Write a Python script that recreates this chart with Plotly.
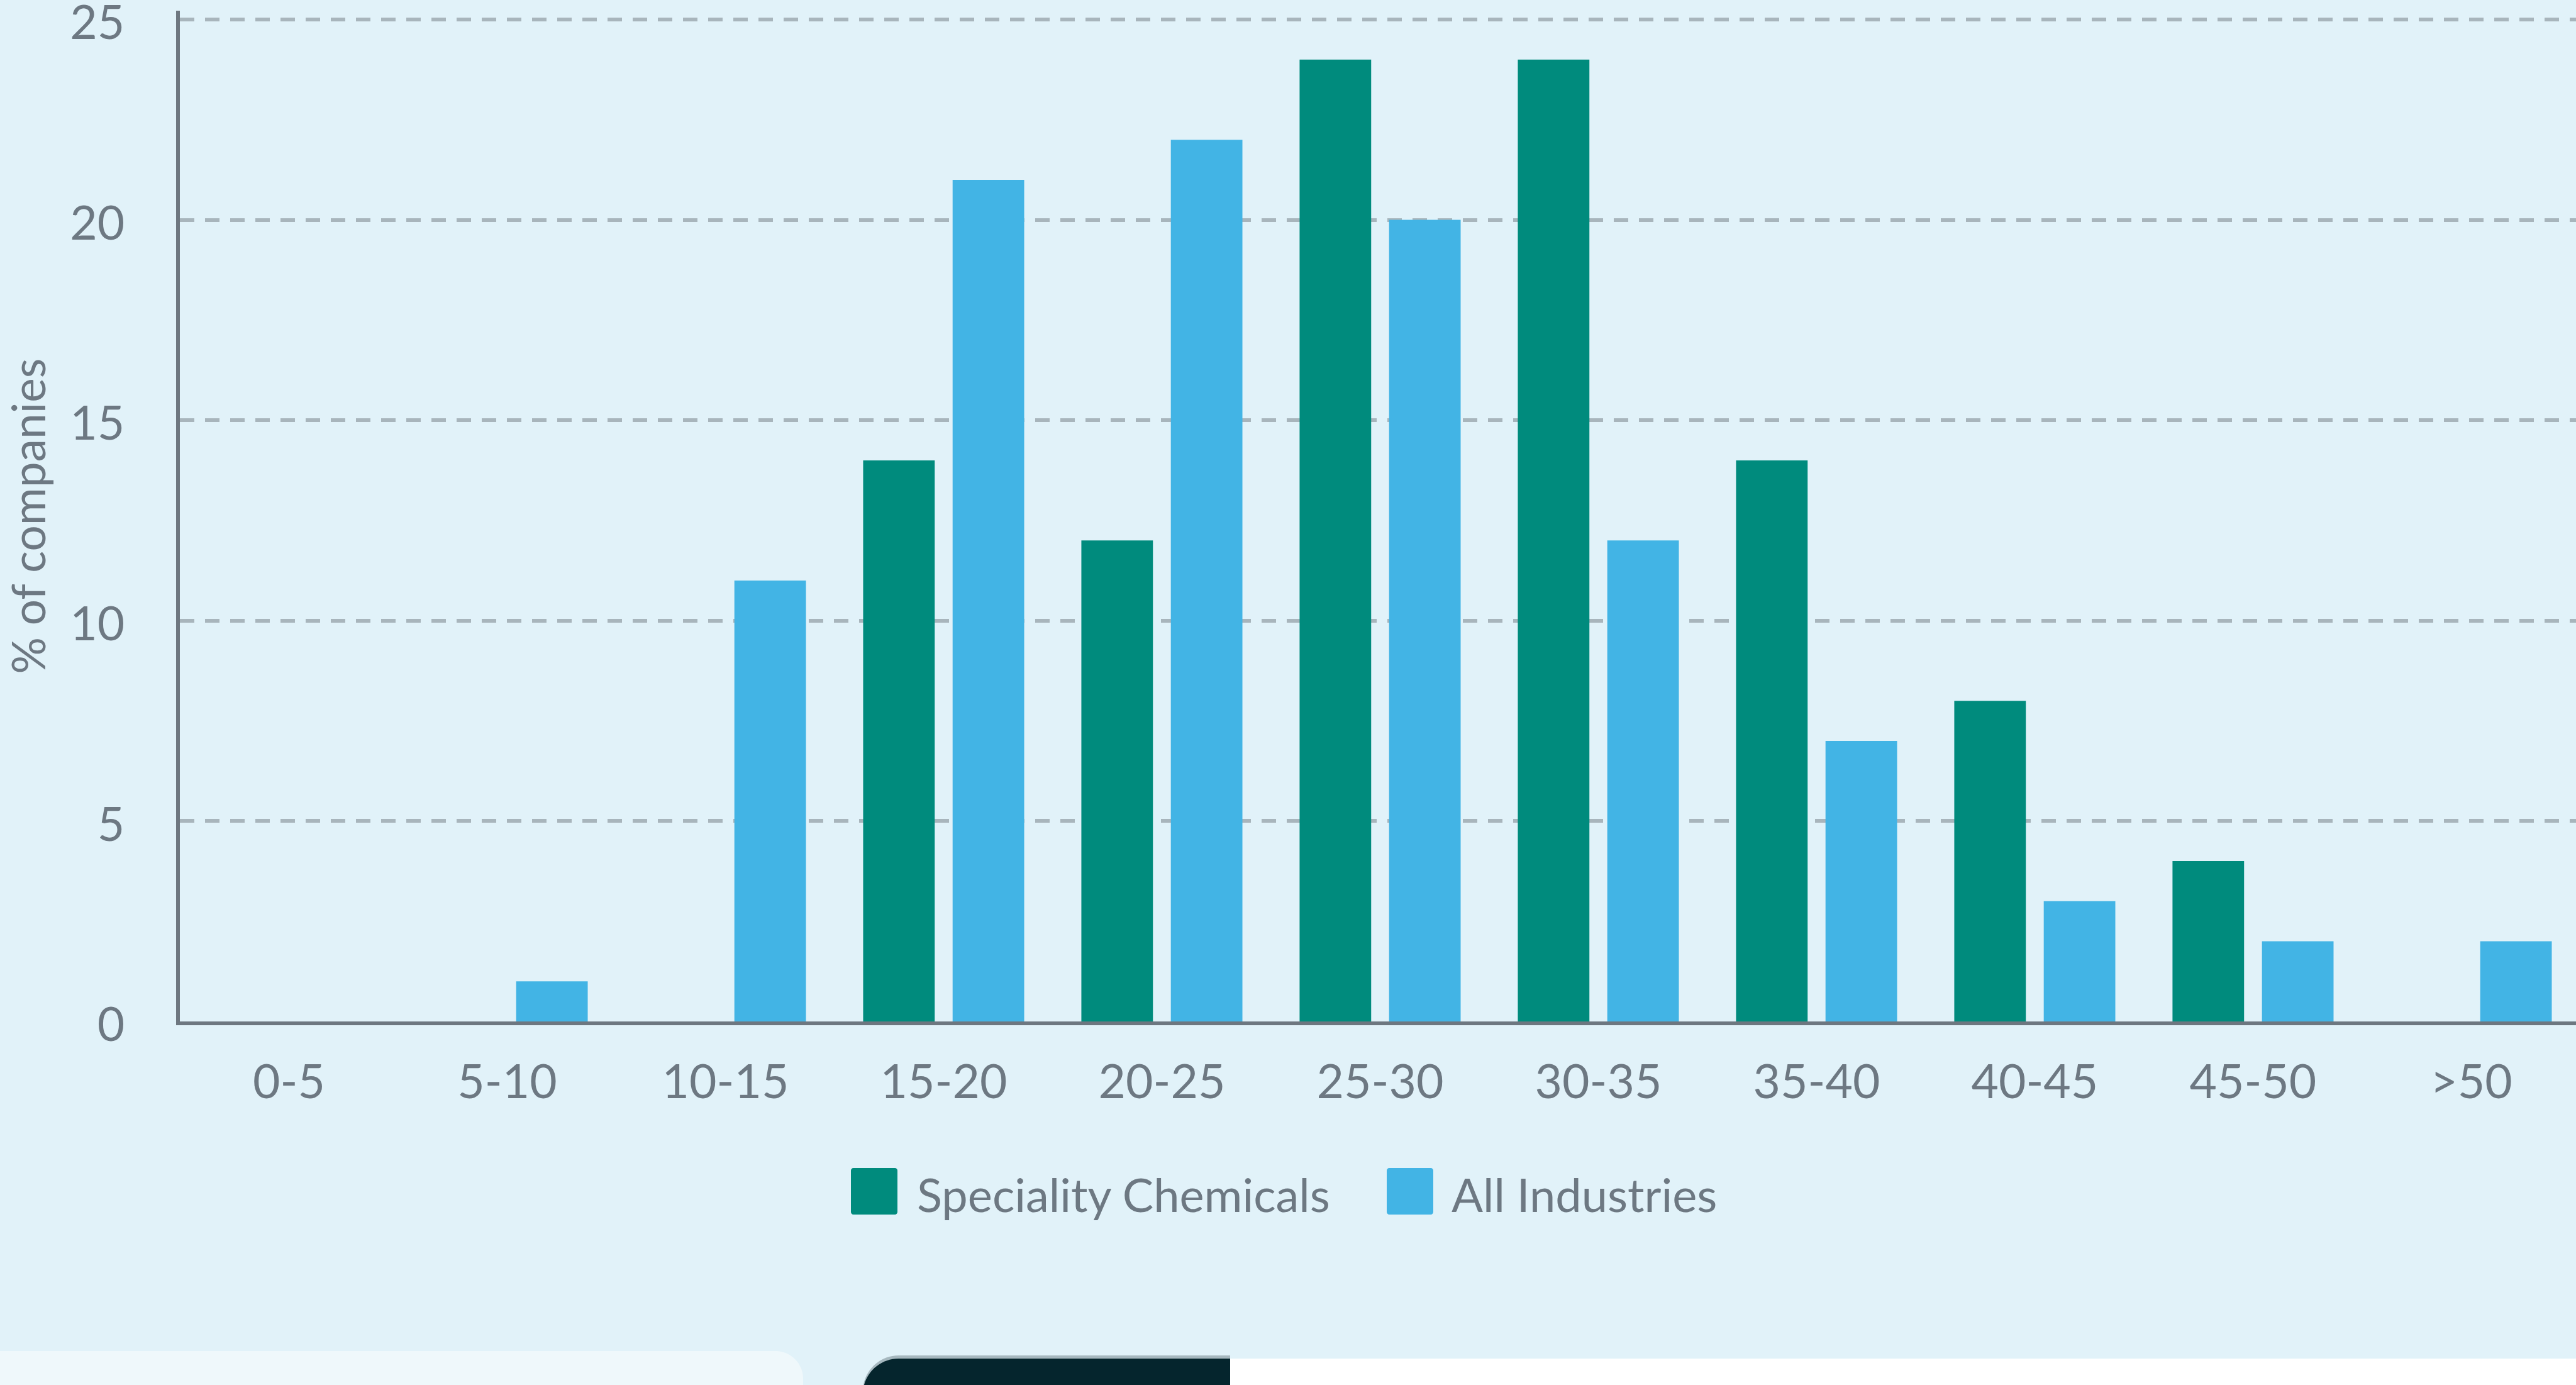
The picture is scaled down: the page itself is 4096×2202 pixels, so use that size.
import plotly.graph_objects as go

# ---------------- data ----------------
categories = ["0-5", "5-10", "10-15", "15-20", "20-25", "25-30",
              "30-35", "35-40", "40-45", "45-50", ">50"]
speciality_chemicals = [0, 0, 0, 14, 12, 24, 24, 14, 8, 4, 0]
all_industries = [0, 1, 11, 21, 22, 20, 12, 7, 3, 2, 2]
y_tick_values = [0, 5, 10, 15, 20, 25]
series_names = ["Speciality Chemicals", "All Industries"]
y_axis_title = "% of companies"

# ---------------- style ----------------
W, H = 4096, 2202
L, R, T, B = 286, 0, 17, 578
PW, PH = W - L - R, H - T - B

BG = "#E1F2F9"
GREEN = "#008B7D"
BLUE = "#42B4E5"
TEXT = "#6D7882"
AXIS = "#6D7780"
GRID = "#A8B5BC"
FONT = "Lato"
FS_TICK = 75
FS_LEGEND = 74
FS_TITLE = 73


def px(x):
    return (x - L) / PW


def py(y):
    return (H - B - y) / PH


def path_from_px(points, closed=True):
    parts = []
    for cmd, *coords in points:
        pts = []
        for i in range(0, len(coords), 2):
            pts.append(f"{px(coords[i]):.6f},{py(coords[i + 1]):.6f}")
        parts.append(cmd + " ".join(pts))
    s = " ".join(parts)
    if closed:
        s += " Z"
    return s


K = 0.5523


def rounded_rect(x0, y0, x1, y1, r):
    k = r * K
    return path_from_px([
        ("M", x0 + r, y0),
        ("L", x1 - r, y0),
        ("C", x1 - r + k, y0, x1, y0 + r - k, x1, y0 + r),
        ("L", x1, y1 - r),
        ("C", x1, y1 - r + k, x1 - r + k, y1, x1 - r, y1),
        ("L", x0 + r, y1),
        ("C", x0 + r - k, y1, x0, y1 - r + k, x0, y1 - r),
        ("L", x0, y0 + r),
        ("C", x0, y0 + r - k, x0 + r - k, y0, x0 + r, y0),
    ])


fig = go.Figure()
fig.add_trace(go.Bar(x=categories, y=speciality_chemicals, name=series_names[0],
                     marker=dict(color=GREEN, line=dict(width=0)), showlegend=False))
fig.add_trace(go.Bar(x=categories, y=all_industries, name=series_names[1],
                     marker=dict(color=BLUE, line=dict(width=0)), showlegend=False))

shapes = []
# bottom page strip (white area, left light panel, dark box)
shapes.append(dict(type="rect", xref="paper", yref="paper",
                   x0=px(1956), x1=px(W + 10), y0=py(2160), y1=py(H + 10),
                   fillcolor="#FFFFFF", line=dict(width=0), layer="below"))
r1 = 44
shapes.append(dict(type="path", xref="paper", yref="paper", layer="below",
                   path=path_from_px([
                       ("M", -10, H + 10),
                       ("L", -10, 2148),
                       ("L", 1277 - r1, 2148),
                       ("C", 1277 - r1 + r1 * K, 2148, 1277, 2148 + r1 - r1 * K, 1277, 2148 + r1),
                       ("L", 1277, H + 10),
                   ]),
                   fillcolor="#EFF8FB", line=dict(width=0)))
r2 = 57
for off, col in [(5, "#A6B8BF"), (0, "#05252D")]:
    x0, y0, x1 = 1372, 2160 - off, 1956
    shapes.append(dict(type="path", xref="paper", yref="paper", layer="below",
                       path=path_from_px([
                           ("M", x0, H + 10),
                           ("L", x0, y0 + r2),
                           ("C", x0, y0 + r2 - r2 * K, x0 + r2 - r2 * K, y0, x0 + r2, y0),
                           ("L", x1, y0),
                           ("L", x1, H + 10),
                       ]),
                       fillcolor=col, line=dict(width=0)))

# custom legend markers
legend_y0, legend_y1 = 1857, 1931
legend_items = [(1353, 1427, 1456, GREEN, series_names[0]),
                (2205, 2279, 2306, BLUE, series_names[1])]
annotations = []
for sx0, sx1, tx, col, name in legend_items:
    shapes.append(dict(type="path", xref="paper", yref="paper", layer="above",
                       path=rounded_rect(sx0, legend_y0, sx1, legend_y1, 4),
                       fillcolor=col, line=dict(width=0)))
    annotations.append(dict(text=name, xref="paper", yref="paper",
                            x=px(tx), y=py(1899), xanchor="left", yanchor="middle",
                            showarrow=False,
                            font=dict(family=FONT, size=FS_LEGEND, color=TEXT)))

fig.update_layout(
    width=W, height=H,
    margin=dict(l=L, r=R, t=T, b=B, pad=0, autoexpand=False),
    paper_bgcolor=BG, plot_bgcolor=BG,
    barmode="group", bargap=0.18, bargroupgap=0.2,
    showlegend=False,
    font=dict(family=FONT, size=FS_TICK, color=TEXT),
    shapes=shapes, annotations=annotations,
    xaxis=dict(type="category", range=[-0.5, 10.48], showgrid=False,
               showline=True, linecolor=AXIS, linewidth=5.7, ticks="",
               tickfont=dict(family=FONT, size=FS_TICK, color=TEXT),
               ticklabelstandoff=26, zeroline=False, fixedrange=True,
               automargin=False),
    yaxis=dict(range=[0, 25.22], tickmode="array", tickvals=y_tick_values,
               showgrid=True, gridcolor=GRID, gridwidth=5.7, griddash="23px,17px",
               showline=True, linecolor=AXIS, linewidth=5.7, ticks="",
               zeroline=False, ticklabelstandoff=67, ticklabeloverflow="allow",
               ticklabelshift=5,
               tickfont=dict(family=FONT, size=FS_TICK, color=TEXT),
               title=dict(text=y_axis_title, standoff=43,
                          font=dict(family=FONT, size=FS_TITLE, color=TEXT)),
               fixedrange=True, automargin=False),
)

fig.write_html("out.html")
